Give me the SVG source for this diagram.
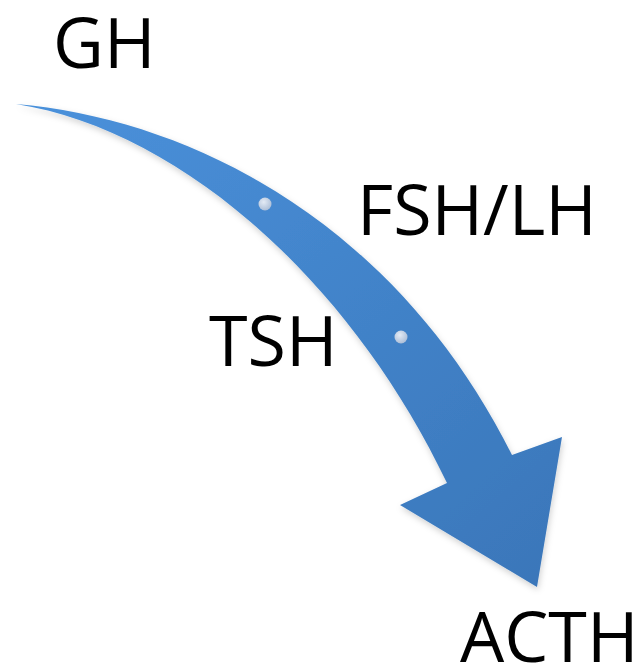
<svg xmlns="http://www.w3.org/2000/svg" width="642" height="669" viewBox="0 0 642 669">
<style>
.lbl{font-family:"Open Sans","Liberation Sans",sans-serif;font-size:70px;fill:#000;}
</style>
<defs>
<linearGradient id="ag" x1="0" y1="0" x2="1" y2="1">
<stop offset="0" stop-color="#4a91db"/>
<stop offset="1" stop-color="#3a76b9"/>
</linearGradient>
<radialGradient id="dg" cx="0.4" cy="0.35" r="0.7">
<stop offset="0" stop-color="#e4ebf5"/>
<stop offset="1" stop-color="#a9bcd6"/>
</radialGradient>
<filter id="sh" x="-10%" y="-10%" width="130%" height="130%">
<feDropShadow dx="1" dy="3" stdDeviation="3" flood-color="#000" flood-opacity="0.18"/>
</filter>
</defs>
<rect width="642" height="669" fill="#fff"/>
<g id="connectors">
<path id="arrow" filter="url(#sh)" fill="url(#ag)" d="M16,104 C200,120 400,230 512,455 L562,437 L537,587 L400,505 L447,483 C350,280 180,130 16,104 Z"/>
<circle cx="265" cy="204" r="6.5" fill="url(#dg)"/>
<circle cx="401" cy="337" r="6.5" fill="url(#dg)"/>
</g>
<g id="node-gh"><text class="lbl" x="53" y="68">GH</text></g>
<g id="node-fshlh"><text class="lbl" x="357" y="235">FSH/LH</text></g>
<g id="node-tsh"><text class="lbl" x="209" y="366">TSH</text></g>
<g id="node-acth"><text class="lbl" x="460" y="662">ACTH</text></g>
</svg>
